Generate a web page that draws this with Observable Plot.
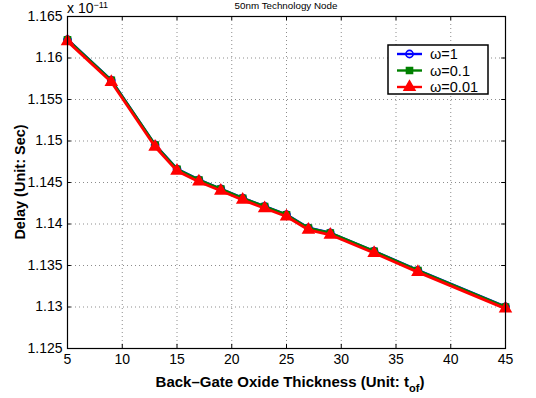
<!DOCTYPE html>
<html>
<head>
<meta charset="utf-8">
<script src="https://cdn.jsdelivr.net/npm/d3@7"></script>
<script src="https://cdn.jsdelivr.net/npm/@observablehq/plot@0.6"></script>
<style>
  html, body { margin: 0; padding: 0; background: #fff; }
  #chart { width: 536px; height: 398px; }
</style>
</head>
<body>
<div id="chart"></div>
<script>
const thickness = [5, 9, 13, 15, 17, 19, 21, 23, 25, 27, 29, 33, 37, 45];
const delayW1   = [1.16222, 1.15732, 1.14952, 1.14662, 1.14532, 1.14422, 1.14312, 1.14212, 1.14112, 1.13952, 1.13892, 1.13672, 1.13442, 1.13002];
const delayW01  = [1.1622, 1.1573, 1.1495, 1.1466, 1.1453, 1.1442, 1.1431, 1.1421, 1.1411, 1.1395, 1.1389, 1.1367, 1.1344, 1.1300];
const delayW001 = [1.1620, 1.1571, 1.1493, 1.1464, 1.1451, 1.1440, 1.1429, 1.1419, 1.1409, 1.1393, 1.1387, 1.1365, 1.1342, 1.1298];
const seriesNames = ["ω=1", "ω=0.1", "ω=0.01"];
const seriesColors = ["#0000ff", "#008000", "#ff0000"];
const seriesSymbols = ["circle", "square", "triangle"];
const xTicks = [5, 10, 15, 20, 25, 30, 35, 40, 45];
const yTicks = [1.125, 1.13, 1.135, 1.14, 1.145, 1.15, 1.155, 1.16, 1.165];
const titleText = "50nm Technology Node";
const xLabelMain = "Back–Gate Oxide Thickness (Unit: t";
const xLabelSub = "of";
const yLabelText = "Delay (Unit: Sec)";

const allSeries = [delayW1, delayW01, delayW001];
const rows = [];
allSeries.forEach((vals, si) => vals.forEach((v, i) => rows.push({x: thickness[i], y: v, s: seriesNames[si]})));

const xDom = [5, 45], yDom = [1.125, 1.165];
const font = "'Liberation Sans', Arial, Helvetica, sans-serif";
const markerR = [3.6, 3.4, 4.0];

const marks = [
  Plot.ruleX(xTicks.slice(1, -1), {x: d => d, stroke: "#000", strokeOpacity: 0.45, strokeDasharray: "1,3"}),
  Plot.ruleY(yTicks.slice(1, -1), {y: d => d, stroke: "#000", strokeOpacity: 0.45, strokeDasharray: "1,3"}),
  Plot.ruleX(xTicks, {x: d => d, y1: yDom[0], y2: yDom[0] + 0.0005, stroke: "#000"}),
  Plot.ruleX(xTicks, {x: d => d, y1: yDom[1], y2: yDom[1] - 0.0005, stroke: "#000"}),
  Plot.ruleY(yTicks, {y: d => d, x1: xDom[0], x2: xDom[0] + 0.35, stroke: "#000"}),
  Plot.ruleY(yTicks, {y: d => d, x1: xDom[1], x2: xDom[1] - 0.35, stroke: "#000"}),
  Plot.axisX({ticks: xTicks, tickSize: 0, tickPadding: 6, fontSize: 14, tickFormat: d => String(d), label: null}),
  Plot.axisY({ticks: yTicks, tickSize: 0, tickPadding: 5, fontSize: 14, tickFormat: d => String(+d.toFixed(3)), label: null}),
];
seriesNames.forEach((name, si) => {
  const data = rows.filter(r => r.s === name);
  marks.push(Plot.line(data, {x: "x", y: "y", stroke: seriesColors[si], strokeWidth: 2.8}));
  marks.push(Plot.dot(data, {
    x: "x", y: "y", symbol: () => seriesSymbols[si], r: markerR[si],
    stroke: seriesColors[si], strokeWidth: 1.6,
    fill: si === 0 ? "none" : seriesColors[si]
  }));
});
marks.push(Plot.frame({stroke: "#000", strokeWidth: 1.2}));

const svg = Plot.plot({
  width: 536, height: 398,
  marginLeft: 67, marginRight: 31, marginTop: 16, marginBottom: 50,
  x: {domain: xDom, axis: null},
  y: {domain: yDom, axis: null},
  symbol: {type: "identity"},
  style: {fontFamily: font, fontSize: "14px", background: "#fff", color: "#000"},
  marks
});
document.getElementById("chart").appendChild(svg);

const s = d3.select(svg);
s.append("text").attr("x", 286).attr("y", 9).attr("text-anchor", "middle")
  .attr("font-size", 9.8).attr("font-family", font).text(titleText);
const ex = s.append("text").attr("x", 67).attr("y", 13).attr("text-anchor", "start")
  .attr("font-size", 14).attr("font-family", font);
ex.append("tspan").text("x 10");
ex.append("tspan").attr("dy", -5.5).attr("font-size", 9).text("−11");
s.append("text").attr("transform", "translate(25,182) rotate(-90)").attr("text-anchor", "middle")
  .attr("font-size", 14.5).attr("font-weight", "bold").attr("font-family", font).text(yLabelText);
const xl = s.append("text").attr("x", 290).attr("y", 387).attr("text-anchor", "middle")
  .attr("font-size", 15).attr("font-weight", "bold").attr("font-family", font);
xl.append("tspan").text(xLabelMain);
xl.append("tspan").attr("dy", 5).attr("font-size", 11).text(xLabelSub);
xl.append("tspan").attr("dy", -5).text(")");

const lg = s.append("g");
lg.append("rect").attr("x", 388).attr("y", 45).attr("width", 100).attr("height", 49)
  .attr("fill", "#fff").attr("stroke", "#000").attr("stroke-width", 1.5);
const symMap = {circle: d3.symbolCircle, square: d3.symbolSquare, triangle: d3.symbolTriangle};
seriesNames.forEach((name, si) => {
  const y = 54 + si * 16.5;
  lg.append("line").attr("x1", 397).attr("x2", 422).attr("y1", y).attr("y2", y)
    .attr("stroke", seriesColors[si]).attr("stroke-width", 2.4);
  const r = markerR[si];
  lg.append("path").attr("transform", `translate(409.5,${y})`)
    .attr("d", d3.symbol(symMap[seriesSymbols[si]], Math.PI * r * r)())
    .attr("stroke", seriesColors[si]).attr("stroke-width", 1.6)
    .attr("fill", si === 0 ? "none" : seriesColors[si]);
  lg.append("text").attr("x", 430).attr("y", y).attr("dy", "0.35em").attr("text-anchor", "start")
    .attr("font-size", 14.5).attr("font-family", font).text(name);
});
</script>
</body>
</html>
